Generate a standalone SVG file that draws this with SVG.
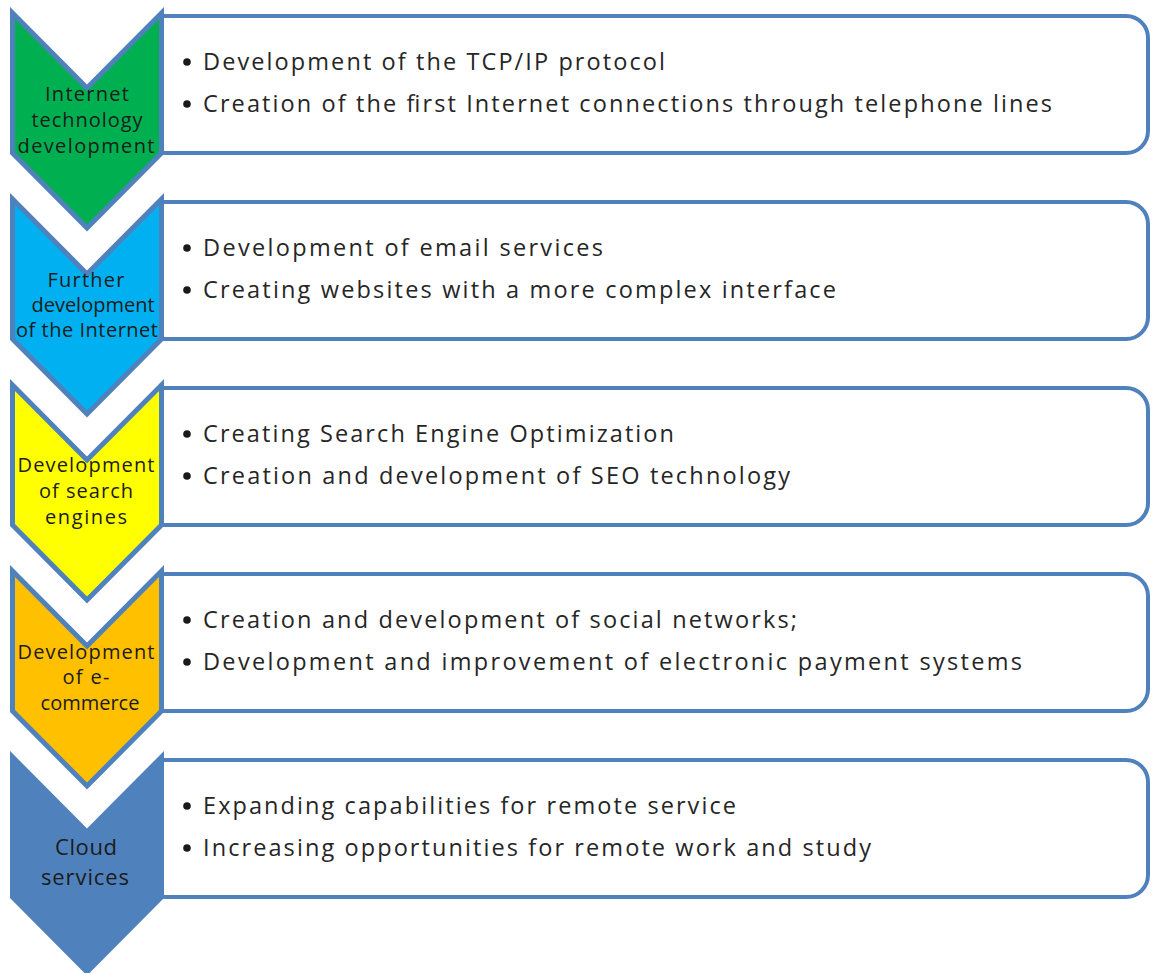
<svg xmlns="http://www.w3.org/2000/svg" width="1152" height="973" viewBox="0 0 1152 973">
  <style>
    .box { fill: #ffffff; stroke: #4f81bd; stroke-width: 4; }
    .chev { stroke: #4f81bd; stroke-width: 5; stroke-linejoin: miter; }
    .lbl { font-family: "Open Sans", "Noto Sans", sans-serif; font-size: 20px; fill: #1c1c1c; text-anchor: middle; }
    .item { font-family: "Open Sans", "Noto Sans", sans-serif; font-size: 23.5px; fill: #262626; }
    .dot { fill: #1a1a1a; }
  </style>
  <defs>
    <!-- detail panel: square left edge, rounded right corners -->
    <path id="panel" d="M162,0 H1126 A22,22 0 0 1 1148,22 V115 A22,22 0 0 1 1126,137 H162 Z"/>
    <!-- downward chevron -->
    <polygon id="chevron" points="12.5,0 87,75 161.5,0 161.5,140 87,215 12.5,140"/>
  </defs>

  <!-- detail panels -->
  <g id="panel-1" transform="translate(0,16)">
    <use href="#panel" class="box"/>
    <circle class="dot" cx="187" cy="46" r="3.8"/>
    <text class="item" x="203" y="54" textLength="462" lengthAdjust="spacing">Development of the TCP/IP protocol</text>
    <circle class="dot" cx="187" cy="88" r="3.8"/>
    <text class="item" x="203" y="96" textLength="849" lengthAdjust="spacing">Creation of the first Internet connections through telephone lines</text>
  </g>
  <g id="panel-2" transform="translate(0,202)">
    <use href="#panel" class="box"/>
    <circle class="dot" cx="187" cy="46" r="3.8"/>
    <text class="item" x="203" y="54" textLength="400" lengthAdjust="spacing">Development of email services</text>
    <circle class="dot" cx="187" cy="88" r="3.8"/>
    <text class="item" x="203" y="96" textLength="633" lengthAdjust="spacing">Creating websites with a more complex interface</text>
  </g>
  <g id="panel-3" transform="translate(0,388)">
    <use href="#panel" class="box"/>
    <circle class="dot" cx="187" cy="46" r="3.8"/>
    <text class="item" x="203" y="54" textLength="471" lengthAdjust="spacing">Creating Search Engine Optimization</text>
    <circle class="dot" cx="187" cy="88" r="3.8"/>
    <text class="item" x="203" y="96" textLength="587" lengthAdjust="spacing">Creation and development of SEO technology</text>
  </g>
  <g id="panel-4" transform="translate(0,574)">
    <use href="#panel" class="box"/>
    <circle class="dot" cx="187" cy="46" r="3.8"/>
    <text class="item" x="203" y="54" textLength="594" lengthAdjust="spacing">Creation and development of social networks;</text>
    <circle class="dot" cx="187" cy="88" r="3.8"/>
    <text class="item" x="203" y="96" textLength="819" lengthAdjust="spacing">Development and improvement of electronic payment systems</text>
  </g>
  <g id="panel-5" transform="translate(0,760)">
    <use href="#panel" class="box"/>
    <circle class="dot" cx="187" cy="46" r="3.8"/>
    <text class="item" x="203" y="54" textLength="533" lengthAdjust="spacing">Expanding capabilities for remote service</text>
    <circle class="dot" cx="187" cy="88" r="3.8"/>
    <text class="item" x="203" y="96" textLength="668" lengthAdjust="spacing">Increasing opportunities for remote work and study</text>
  </g>

  <!-- stage chevrons -->
  <g id="stage-1" transform="translate(0,13)">
    <use href="#chevron" class="chev" fill="#00b050"/>
    <text class="lbl" x="87" y="88" textLength="84" lengthAdjust="spacing">Internet</text>
    <text class="lbl" x="87" y="114" textLength="111" lengthAdjust="spacing">technology</text>
    <text class="lbl" x="86" y="140" textLength="137" lengthAdjust="spacing">development</text>
  </g>
  <g id="stage-2" transform="translate(0,199)">
    <use href="#chevron" class="chev" fill="#00b0f0"/>
    <text class="lbl" x="86" y="88" textLength="77" lengthAdjust="spacing">Further</text>
    <text class="lbl" x="93" y="113">development</text>
    <text class="lbl" x="87" y="138" textLength="142" lengthAdjust="spacing">of the Internet</text>
  </g>
  <g id="stage-3" transform="translate(0,385)">
    <use href="#chevron" class="chev" fill="#ffff00"/>
    <text class="lbl" x="86" y="87" textLength="137" lengthAdjust="spacing">Development</text>
    <text class="lbl" x="86" y="113" textLength="94" lengthAdjust="spacing">of search</text>
    <text class="lbl" x="86" y="139" textLength="82" lengthAdjust="spacing">engines</text>
  </g>
  <g id="stage-4" transform="translate(0,571)">
    <use href="#chevron" class="chev" fill="#ffc000"/>
    <text class="lbl" x="86" y="88" textLength="137" lengthAdjust="spacing">Development</text>
    <text class="lbl" x="86" y="113" textLength="47" lengthAdjust="spacing">of e-</text>
    <text class="lbl" x="90" y="139">commerce</text>
  </g>
  <g id="stage-5" transform="translate(0,757)">
    <use href="#chevron" class="chev" fill="#4f81bd"/>
    <text class="lbl" x="86" y="98" style="font-size:22px" textLength="62" lengthAdjust="spacing">Cloud</text>
    <text class="lbl" x="85" y="128" style="font-size:22px" textLength="88" lengthAdjust="spacing">services</text>
  </g>

  <!-- connectors: none; stages are stacked directly -->
  <g id="connectors"/>
</svg>
